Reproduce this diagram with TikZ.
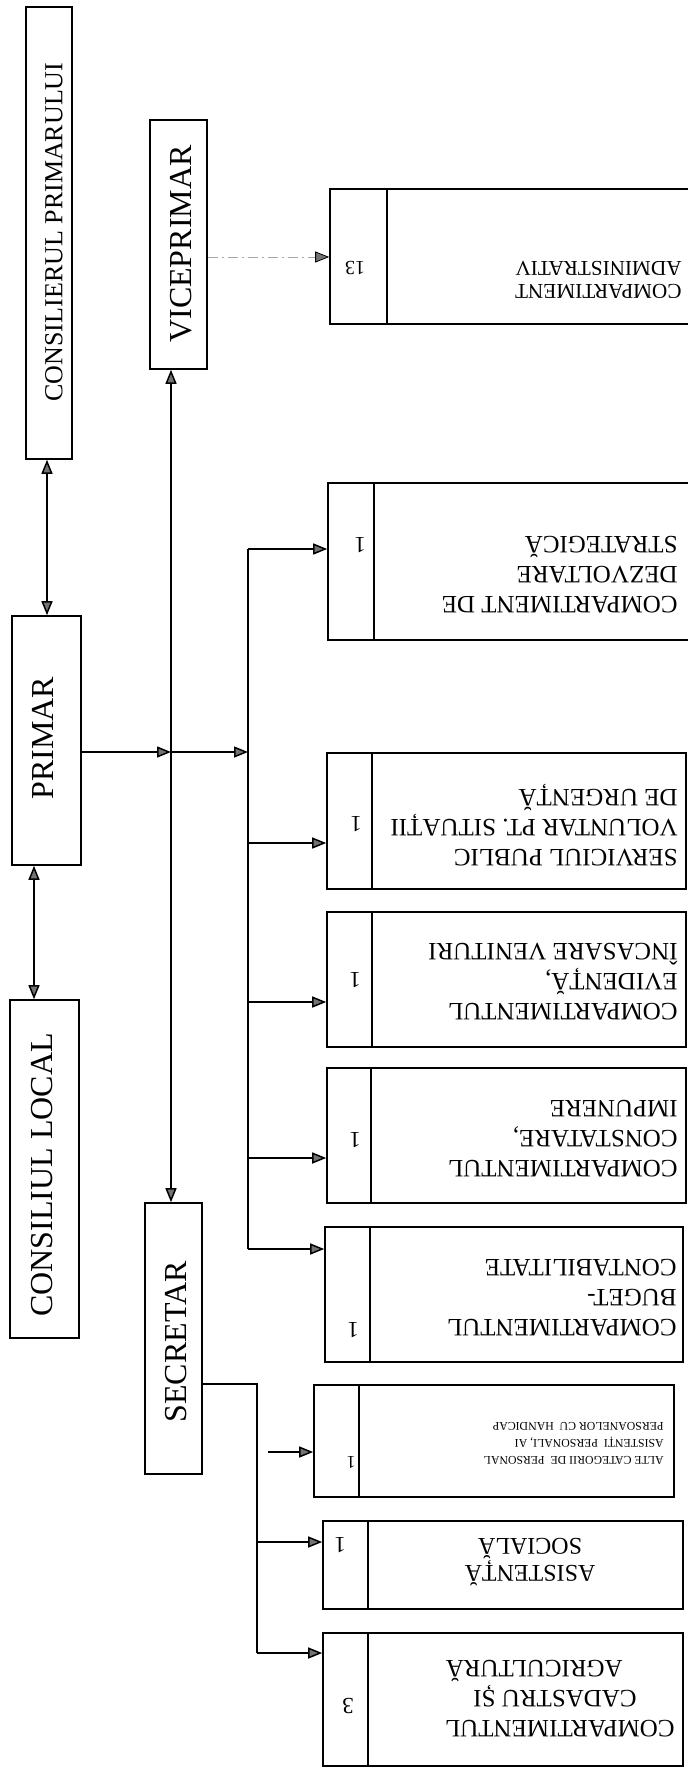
\documentclass[tikz,border=0pt]{standalone}
\usepackage{fontspec}
\setmainfont{Liberation Serif}
\usetikzlibrary{arrows.meta,fit}
\begin{document}
\begin{tikzpicture}[x=0.5pt,y=-0.5pt,
  box/.style={draw, line width=0.8pt, inner sep=0pt},
  arr/.style={line width=0.75pt, -{Triangle[length=7pt,width=5.5pt,fill=black!55]}},
  darr/.style={line width=0.75pt, {Triangle[length=7pt,width=5.5pt,fill=black!55]}-{Triangle[length=7pt,width=5.5pt,fill=black!55]}},
  dotarr/.style={line width=0.4pt, draw=gray!70, dash pattern=on 5pt off 2pt on 1pt off 2pt, -{Triangle[length=7pt,width=5.5pt,fill=black!55,color=black]}},
  ln/.style={line width=0.75pt},
  vtext/.style={rotate=90, inner sep=0pt},
  rtext/.style={rotate=180, inner sep=0pt, anchor=west, align=left, font=\fontsize{12.5}{15}\selectfont},
  num/.style={rotate=180, inner sep=0pt, font=\fontsize{11.5}{12}\selectfont},
]
\useasboundingbox (0,0) rectangle (688,1768);

% left column boxes
\node[box, fit={(26,7) (72,459)}] (cp) {};
\node[box, fit={(12,616) (81,865)}] (primar) {};
\node[box, fit={(10,1000) (79,1338)}] (cl) {};
\node[box, fit={(150,120) (207,369)}] (vice) {};
\node[box, fit={(145,1203) (202,1474)}] (secr) {};

\node[vtext, font=\fontsize{13}{14}\selectfont] (cpt) at (54,232) {CONSILIERUL PRIMARULUI};
\node[vtext, font=\fontsize{16}{17}\selectfont] (primart) at (43,738) {PRIMAR};
\node[vtext, font=\fontsize{16}{17}\selectfont] (clt) at (42,1175) {CONSILIUL LOCAL};
\node[vtext, font=\fontsize{16}{17}\selectfont] (vicet) at (181,244) {VICEPRIMAR};
\node[vtext, font=\fontsize{16}{17}\selectfont] (secrt) at (176,1342) {SECRETAR};

% right column boxes
\node[box, fit={(330,189) (700,324)}] (admin) {};
\node[box, fit={(328,483) (700,640)}] (dezv) {};
\node[box, fit={(327,753) (686,889)}] (serv) {};
\node[box, fit={(327,912) (686,1047)}] (evid) {};
\node[box, fit={(327,1068) (686,1203)}] (const) {};
\node[box, fit={(325,1227) (683,1362)}] (contab) {};
\node[box, fit={(314,1385) (674,1497)}] (alte) {};
\node[box, fit={(323,1521) (683,1609)}] (asist) {};
\node[box, fit={(323,1633) (683,1766)}] (cad) {};

% dividers
\draw[ln] (387,0 |- admin.north) -- (387,0 |- admin.south);
\draw[ln] (374,0 |- dezv.north) -- (374,0 |- dezv.south);
\draw[ln] (372,0 |- serv.north) -- (372,0 |- serv.south);
\draw[ln] (372,0 |- evid.north) -- (372,0 |- evid.south);
\draw[ln] (371,0 |- const.north) -- (371,0 |- const.south);
\draw[ln] (370,0 |- contab.north) -- (370,0 |- contab.south);
\draw[ln] (359,0 |- alte.north) -- (359,0 |- alte.south);
\draw[ln] (368,0 |- asist.north) -- (368,0 |- asist.south);
\draw[ln] (368,0 |- cad.north) -- (368,0 |- cad.south);

% texts of right boxes
\node[rtext, font=\fontsize{10.6}{11.7}\selectfont] (admint) at (682,280) {COMPARTIMENT\\ADMINISTRATIV};
\node[rtext] (dezvt) at (678,575) {COMPARTIMENT DE\\DEZVOLTARE\\STRATEGICĂ};
\node[rtext] (servt) at (678,825) {SERVICIUL PUBLIC\\VOLUNTAR PT. SITUAȚII\\DE URGENȚĂ};
\node[rtext] (evidt) at (678,982) {COMPARTIMENTUL\\EVIDENȚĂ,\\ÎNCASARE VENITURI};
\node[rtext] (constt) at (678,1139) {COMPARTIMENTUL\\CONSTATARE,\\IMPUNERE};
\node[rtext] (contabt) at (677,1298) {COMPARTIMENTUL\\BUGET-\\CONTABILITATE};
\node[rtext, font=\fontsize{5.9}{8.5}\selectfont] (altet) at (664,1443) {ALTE CATEGORII DE~~PERSONAL\\ASISTENȚI~~PERSONALI, AI\\PERSOANELOR CU~~HANDICAP};
\node[rtext, anchor=center, align=center, font=\fontsize{12}{12.5}\selectfont] (asistt) at (530,1562) {ASISTENȚĂ\\SOCIALĂ};
\node[rtext] (cadt) at (675,1699) {COMPARTIMENTUL\\\hspace*{19pt}CADASTRU ȘI\\\hspace*{26pt}AGRICULTURĂ};

% numbers
\node[num, font=\fontsize{10}{11}\selectfont] (nadmin) at (355,268) {13};
\node[num] (ndezv) at (360,545) {1};
\node[num] (nserv) at (356,824) {1};
\node[num] (nevid) at (355,980) {1};
\node[num] (nconst) at (355,1140) {1};
\node[num] (ncontab) at (353,1330) {1};
\node[num, font=\fontsize{9}{10}\selectfont] (nalte) at (351,1462) {1};
\node[num] (nasist) at (340,1545) {1};
\node[num] (ncad) at (348,1706) {3};

% connectors
\draw[darr] (47,0 |- cp.south) -- (47,0 |- primar.north);
\draw[darr] (34,0 |- primar.south) -- (34,0 |- cl.north);
\draw[darr] (171,0 |- vice.south) -- (171,0 |- secr.north);

\coordinate (j1) at (171,752);
\coordinate (j2) at (248,752);
\draw[arr] (primar.east |- j1) -- (j1);
\draw[arr] (j1) -- (j2);

\coordinate (b1) at (248,549);
\coordinate (b2) at (248,843);
\coordinate (b3) at (248,1002);
\coordinate (b4) at (248,1158);
\coordinate (b5) at (248,1249);
\draw[ln] (b1) -- (b5);
\draw[arr] (b1) -- (dezv.west |- b1);
\draw[arr] (b2) -- (serv.west |- b2);
\draw[arr] (b3) -- (evid.west |- b3);
\draw[arr] (b4) -- (const.west |- b4);
\draw[arr] (b5) -- (contab.west |- b5);

\coordinate (v1) at (207,257);
\draw[dotarr] (vice.east |- v1) -- (admin.west |- v1);

\coordinate (s1) at (257,1384);
\coordinate (s2) at (257,1542);
\coordinate (s3) at (257,1653);
\draw[ln] (secr.east |- s1) -- (s1) -- (s3);
\draw[arr] (s2) -- (asist.west |- s2);
\draw[arr] (s3) -- (cad.west |- s3);

\coordinate (af) at (268,1452);
\draw[arr] (af) -- (alte.west |- af);
\end{tikzpicture}
\end{document}
